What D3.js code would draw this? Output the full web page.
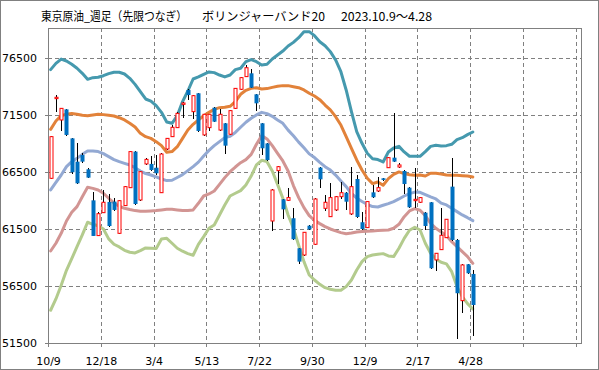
<!DOCTYPE html>
<meta charset="utf-8">
<style>
body { margin: 0; background: #fff; }
svg text { font-family: "DejaVu Sans", sans-serif; font-size: 11px; fill: #000; }
.title { font-family: "Noto Sans CJK JP", sans-serif; font-size: 12px; }
.grid line { stroke: #808080; stroke-dasharray: 4,3; shape-rendering: crispEdges; }
.axis path, .axis line { stroke: #808080; shape-rendering: crispEdges; }
.band { fill: none; stroke-width: 3; stroke-linejoin: round; stroke-linecap: round; }
</style>
<svg width="599" height="370"></svg>
<script src="https://d3js.org/d3.v7.min.js"></script>
<script>

// weekly bars, one label every 10 weeks, 101 slots on the axis
var xLabels = ["10/9", "12/18", "3/4", "5/13", "7/22", "9/30", "12/9", "2/17", "4/28"];
var slots = 101;
var yTicks = [51500, 56500, 61500, 66500, 71500, 76500];

var open = [65930,72910,71040,71970,69430,67390,67970,66720,64000,60910,
  62920,63860,63890,61110,63540,65110,68270,64030,67190,67190,
  66860,64670,68500,69580,70370,72410,73670,71770,73380,69730,
  70370,72120,70160,70750,69790,72060,73730,74840,75130,73290,
  70750,68990,62190,66600,64090,64000,62430,59800,59210,61780,
  60150,66870,63300,62570,63160,64320,64670,62810,65870,62080,
  61610,64700,64820,65930,66860,67740,66920,66570,65110,63970,
  63830,62920,63830,58780,59680,60730,65200,60530,55210,58400,
  57550];
var high = [69670,73230,72120,72030,69490,69050,68120,66810,64760,63010,
  64910,64560,64180,64030,65260,68320,68320,66570,67680,67890,
  67970,68120,69490,70600,71770,72590,73730,73230,73440,71600,
  71600,72180,71970,70810,71920,73870,74810,75860,75510,73350,
  70810,69050,64970,67010,64150,65050,63300,59860,61260,61840,
  64180,66920,64470,65490,64380,65580,64730,66950,66220,63010,
  63940,65350,66080,65990,67800,71680,67240,66630,65170,66810,
  64290,62980,63890,59420,63360,62400,67680,60590,58400,58460,
  57900];
var low = [65870,71770,70080,69670,66340,65460,67240,65930,60850,60850,
  62860,61700,63100,61060,63480,65050,63620,63970,67130,66600,
  66220,64610,68440,69520,70310,71240,72790,71130,70020,69670,
  70110,70830,70110,68060,69730,72000,73670,74780,73810,71830,
  67970,67480,61340,65430,62370,63940,60530,58430,59160,61400,
  60090,65050,63070,62510,63100,64090,63160,62750,62480,61430,
  61550,64210,64760,65730,66810,67330,66860,64560,63330,63300,
  63740,61400,57990,57840,59620,60670,60470,51860,54100,57550,
  52150];
var close = [69580,73030,72060,69730,66460,65490,67390,65990,60880,62830,
  63830,61750,63160,63970,65200,68270,63680,66510,67590,66660,
  66370,68060,69430,70400,71620,72530,73230,73170,70080,71540,
  71540,70890,71540,68790,71860,73810,74750,75620,73870,72500,
  68560,67530,64910,66950,63210,64240,60590,58630,61200,61460,
  64120,65840,63830,64240,64320,64670,63880,65200,62540,61490,
  63890,64270,65110,65790,67740,67390,67100,65430,63390,64090,
  64240,61750,58050,59360,60940,62340,60530,55860,58340,57610,
  54830];

// Bollinger band 20: +2σ, +1σ, middle, -1σ, -2σ
var upper2 = [75450,76000,76380,76210,75920,75570,75130,74600,74750,74780,
  74920,75100,75220,75220,75070,74690,74160,73520,72880,72700,
  72300,71710,70870,70750,71420,72650,73580,74630,74810,75040,
  75250,75190,74980,74810,74980,75450,75570,76150,76330,76150,
  75860,75920,76380,76730,77080,77520,77840,78250,78780,78780,
  78430,77900,77550,77030,76300,75270,73670,71770,70020,69000,
  68120,67650,67570,67360,68240,68590,68730,68240,67860,67860,
  67860,68270,68730,68820,68760,68790,68910,69320,69490,69760,
  69990];
var upper1 = [70220,70950,71420,71540,71600,71540,71450,71420,71480,71540,
  71510,71450,71390,71240,71040,70750,70430,69870,69580,69430,
  69140,68790,68210,68270,68700,69430,70160,70660,71040,71420,
  71710,71970,72120,72150,72240,72650,73290,73640,73810,73870,
  73760,73790,73900,73990,74050,74050,73960,73870,73670,73380,
  73140,72820,72350,71920,71330,70600,69580,68560,67540,66660,
  65930,65460,65610,65320,65900,66280,66490,66340,66250,66190,
  66220,66130,66370,66370,66310,66220,66190,66190,66160,66130,
  66050];
var middle = [64910,65580,66220,66950,67390,67680,68030,68320,68320,68270,
  68090,67830,67570,67390,67240,67100,66860,66570,66340,66220,
  66050,65870,65730,65760,66000,66250,66600,66950,67350,67890,
  68380,68790,69140,69490,69620,69950,70400,70840,71190,71480,
  71710,71600,71360,71040,70750,70150,69660,69100,68600,68070,
  67750,67330,66950,66650,66210,65700,65200,64600,64200,63900,
  63650,63450,63420,63570,63710,63890,64120,64380,64590,64720,
  64700,64500,64300,64120,63750,63600,63300,63010,62720,62480,
  62220];
var lower1 = [59560,60240,61110,62190,62950,63450,64320,65140,65050,64910,
  64620,64180,63770,63480,63300,63190,63100,63040,63040,63070,
  63100,63160,63210,63210,63160,63100,63100,63160,63740,64380,
  64560,64820,65400,65990,66510,66920,67300,67570,68030,68910,
  69670,69380,68790,68120,67450,66570,65290,64240,63360,62660,
  62250,61960,61700,61490,61320,61170,61080,61140,61230,61260,
  61290,61320,61350,61380,61400,61550,61900,62570,63070,63270,
  63130,62660,61990,61550,61230,60910,60380,59940,59510,59070,
  58480];
var lower2 = [54370,55360,56560,57870,58890,59940,60970,62080,61900,61780,
  61490,60620,60150,59920,59620,59450,59390,59590,59830,59800,
  59770,60620,60670,60240,59800,59540,59330,59190,60150,60820,
  61550,61840,62720,63590,64380,64620,64850,65350,66130,67100,
  67510,67390,66570,65400,64180,62720,61550,60060,58630,57460,
  57020,56640,56350,56210,56120,56120,56440,57020,57900,58630,
  59070,59210,59270,59330,59130,59070,59800,60670,61380,61640,
  61400,60240,59360,58860,58570,58430,57750,56440,55560,54950,
  54480];

var bands = [
  {values: lower2, color: "#b3cb8d"},
  {values: lower1, color: "#d29593"},
  {values: middle, color: "#93a9d3"},
  {values: upper1, color: "#e2823a"},
  {values: upper2, color: "#4599ae"}
];

var svg = d3.select("svg"),
    margin = {top: 28, right: 18, bottom: 27, left: 48},
    width = +svg.attr("width") - margin.left - margin.right,
    height = +svg.attr("height") - margin.top - margin.bottom;

// outer frame
svg.append("rect")
    .attr("x", 0.5).attr("y", 0.5)
    .attr("width", 598).attr("height", 369)
    .attr("fill", "#fff").attr("stroke", "#808080");

// title, three pieces spaced like the original
var titleParts = [
  {text: "東京原油_週足（先限つなぎ）", x: 41, len: 146},
  {text: "ボリンジャーバンド20", x: 202, len: 123},
  {text: "2023.10.9～4.28", x: 341, len: 91}
];
svg.append("text")
    .attr("class", "title")
    .attr("y", 21)
  .selectAll("tspan")
  .data(titleParts)
  .enter().append("tspan")
    .attr("x", function(d) { return d.x; })
    .attr("textLength", function(d) { return d.len; })
    .attr("lengthAdjust", "spacingAndGlyphs")
    .text(function(d) { return d.text; });

var x = d3.scaleLinear().domain([0, slots]).range([0, width]),
    y = d3.scaleLinear().domain([51500, 79100]).range([height, 0]);

var g = svg.append("g")
    .attr("transform", "translate(" + margin.left + "," + margin.top + ")");

// dashed grid
var grid = g.append("g").attr("class", "grid");
grid.selectAll(".gy")
  .data(yTicks.slice(1))
  .enter().append("line")
    .attr("x1", 0).attr("x2", width)
    .attr("y1", function(d) { return Math.round(y(d)) + 0.5; })
    .attr("y2", function(d) { return Math.round(y(d)) + 0.5; });
grid.selectAll(".gx")
  .data(d3.range(10, slots, 10))
  .enter().append("line")
    .attr("y1", 0).attr("y2", height)
    .attr("x1", function(d) { return Math.round(x(d)) + 0.5; })
    .attr("x2", function(d) { return Math.round(x(d)) + 0.5; });

// plot frame
g.append("rect")
    .attr("x", 0.5).attr("y", 0.5)
    .attr("width", width).attr("height", height)
    .attr("fill", "none").attr("stroke", "#808080")
    .style("shape-rendering", "crispEdges");

// bands
var line = d3.line()
    .x(function(d, i) { return x(i + 0.5); })
    .y(function(d) { return y(d); });

g.selectAll(".band")
  .data(bands)
  .enter().append("path")
    .attr("class", "band")
    .attr("stroke", function(d) { return d.color; })
    .attr("d", function(d) { return line(d.values); });

// candles
var candles = open.map(function(o, i) {
  return {i: i, o: o, h: high[i], l: low[i], c: close[i]};
});

var cg = g.selectAll(".candle")
  .data(candles)
  .enter().append("g")
    .attr("class", "candle")
    .attr("transform", function(d) { return "translate(" + Math.round(x(d.i + 0.5)) + ",0)"; });

cg.append("line")
    .attr("x1", 0.5).attr("x2", 0.5)
    .attr("y1", function(d) { return y(d.h); })
    .attr("y2", function(d) { return y(d.l); })
    .attr("stroke", "#000")
    .style("shape-rendering", "crispEdges");

cg.append("rect")
    .attr("x", function(d) { return d.c >= d.o ? -1 : -1.5; })
    .attr("width", function(d) { return d.c >= d.o ? 3 : 4; })
    .attr("y", function(d) { return y(Math.max(d.o, d.c)); })
    .attr("height", function(d) { return Math.max(1, Math.abs(y(d.o) - y(d.c))); })
    .attr("fill", function(d) { return d.c >= d.o ? "#fff" : "#0070c0"; })
    .attr("stroke", function(d) { return d.c >= d.o ? "#ff0000" : "none"; })
    .attr("stroke-width", 1);

// axes
g.append("g")
    .attr("class", "axis axis--y")
    .call(d3.axisLeft(y).tickValues(yTicks).tickSize(3).tickPadding(8).tickFormat(d3.format("d")))
    .call(function(a) { a.select(".domain").remove(); });

g.append("g")
    .attr("class", "axis axis--x")
    .attr("transform", "translate(0," + height + ")")
    .call(d3.axisBottom(x)
      .tickValues(d3.range(0, slots, 10))
      .tickSize(4).tickPadding(10)
      .tickFormat(function(d) { return xLabels[d / 10] || ""; }))
    .call(function(a) { a.select(".domain").remove(); });

</script>
